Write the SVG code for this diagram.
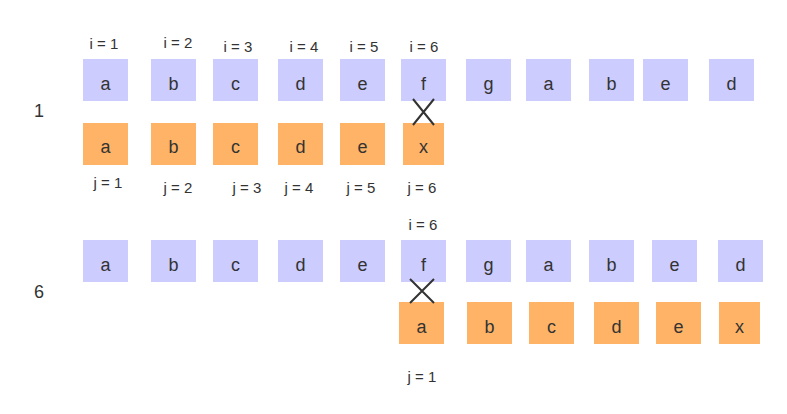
<svg xmlns="http://www.w3.org/2000/svg" width="787" height="414" viewBox="0 0 787 414">
<style>
  text { font-family: "Liberation Sans", Arial, sans-serif; fill: #333333; text-anchor: middle; }
  .lbl { font-size: 15px; }
  .ch { font-size: 18px; }
  .step { font-size: 18px; }
  .blue { fill: #ccccff; }
  .orange { fill: #ffb366; }
  .cross { stroke: #333333; stroke-width: 2; fill: none; }
</style>
<rect width="787" height="414" fill="#ffffff"/>

<g id="step1">
  <text class="step" x="39" y="117">1</text>
  <g id="labels-i-1">
    <text class="lbl" x="104" y="49">i = 1</text>
    <text class="lbl" x="178" y="48">i = 2</text>
    <text class="lbl" x="238" y="52">i = 3</text>
    <text class="lbl" x="304" y="52">i = 4</text>
    <text class="lbl" x="364" y="52">i = 5</text>
    <text class="lbl" x="424" y="52">i = 6</text>
  </g>
  <g id="text1-a"><rect class="blue" x="83" y="59" width="45" height="42"/><text class="ch" x="105.5" y="90">a</text></g>
  <g id="text1-b"><rect class="blue" x="151" y="59" width="45" height="42"/><text class="ch" x="173.5" y="90">b</text></g>
  <g id="text1-c"><rect class="blue" x="213" y="59" width="45" height="42"/><text class="ch" x="235.5" y="90">c</text></g>
  <g id="text1-d"><rect class="blue" x="278" y="59" width="45" height="42"/><text class="ch" x="300.5" y="90">d</text></g>
  <g id="text1-e"><rect class="blue" x="340" y="59" width="45" height="42"/><text class="ch" x="362.5" y="90">e</text></g>
  <g id="text1-f"><rect class="blue" x="401" y="59" width="45" height="42"/><text class="ch" x="423.5" y="90">f</text></g>
  <g id="text1-g"><rect class="blue" x="466" y="59" width="45" height="42"/><text class="ch" x="488.5" y="90">g</text></g>
  <g id="text1-a2"><rect class="blue" x="526" y="59" width="45" height="42"/><text class="ch" x="548.5" y="90">a</text></g>
  <g id="text1-b2"><rect class="blue" x="589" y="59" width="45" height="42"/><text class="ch" x="611.5" y="90">b</text></g>
  <g id="text1-e2"><rect class="blue" x="643" y="59" width="45" height="42"/><text class="ch" x="665.5" y="90">e</text></g>
  <g id="text1-d2"><rect class="blue" x="709" y="59" width="45" height="42"/><text class="ch" x="731.5" y="90">d</text></g>

  <g id="pat1-a"><rect class="orange" x="83" y="123" width="45" height="42"/><text class="ch" x="105.5" y="153">a</text></g>
  <g id="pat1-b"><rect class="orange" x="151" y="123" width="45" height="42"/><text class="ch" x="173.5" y="153">b</text></g>
  <g id="pat1-c"><rect class="orange" x="213" y="123" width="45" height="42"/><text class="ch" x="235.5" y="153">c</text></g>
  <g id="pat1-d"><rect class="orange" x="278" y="123" width="45" height="42"/><text class="ch" x="300.5" y="153">d</text></g>
  <g id="pat1-e"><rect class="orange" x="340" y="123" width="45" height="42"/><text class="ch" x="362.5" y="153">e</text></g>
  <g id="pat1-x"><rect class="orange" x="403" y="123" width="41" height="42"/><text class="ch" x="423.5" y="153">x</text></g>

  <g id="labels-j-1">
    <text class="lbl" x="108" y="188">j = 1</text>
    <text class="lbl" x="178" y="193">j = 2</text>
    <text class="lbl" x="247" y="193">j = 3</text>
    <text class="lbl" x="299" y="193">j = 4</text>
    <text class="lbl" x="361" y="193">j = 5</text>
    <text class="lbl" x="422" y="193">j = 6</text>
  </g>
</g>

<g id="step6">
  <text class="step" x="39" y="298">6</text>
  <text class="lbl" x="423" y="230">i = 6</text>
  <g id="text6-a"><rect class="blue" x="83" y="240" width="45" height="42"/><text class="ch" x="105.5" y="271">a</text></g>
  <g id="text6-b"><rect class="blue" x="151" y="240" width="45" height="42"/><text class="ch" x="173.5" y="271">b</text></g>
  <g id="text6-c"><rect class="blue" x="213" y="240" width="45" height="42"/><text class="ch" x="235.5" y="271">c</text></g>
  <g id="text6-d"><rect class="blue" x="278" y="240" width="45" height="42"/><text class="ch" x="300.5" y="271">d</text></g>
  <g id="text6-e"><rect class="blue" x="340" y="240" width="45" height="42"/><text class="ch" x="362.5" y="271">e</text></g>
  <g id="text6-f"><rect class="blue" x="401" y="240" width="45" height="42"/><text class="ch" x="423.5" y="271">f</text></g>
  <g id="text6-g"><rect class="blue" x="466" y="240" width="45" height="42"/><text class="ch" x="488.5" y="271">g</text></g>
  <g id="text6-a2"><rect class="blue" x="526" y="240" width="45" height="42"/><text class="ch" x="548.5" y="271">a</text></g>
  <g id="text6-b2"><rect class="blue" x="589" y="240" width="45" height="42"/><text class="ch" x="611.5" y="271">b</text></g>
  <g id="text6-e2"><rect class="blue" x="652" y="240" width="45" height="42"/><text class="ch" x="674.5" y="271">e</text></g>
  <g id="text6-d2"><rect class="blue" x="718" y="240" width="45" height="42"/><text class="ch" x="740.5" y="271">d</text></g>

  <g id="pat6-a"><rect class="orange" x="399" y="302" width="45" height="42"/><text class="ch" x="421.5" y="333">a</text></g>
  <g id="pat6-b"><rect class="orange" x="467" y="302" width="45" height="42"/><text class="ch" x="489.5" y="333">b</text></g>
  <g id="pat6-c"><rect class="orange" x="529" y="302" width="45" height="42"/><text class="ch" x="551.5" y="333">c</text></g>
  <g id="pat6-d"><rect class="orange" x="594" y="302" width="45" height="42"/><text class="ch" x="616.5" y="333">d</text></g>
  <g id="pat6-e"><rect class="orange" x="656" y="302" width="45" height="42"/><text class="ch" x="678.5" y="333">e</text></g>
  <g id="pat6-x"><rect class="orange" x="719" y="302" width="41" height="42"/><text class="ch" x="739.5" y="333">x</text></g>

  <text class="lbl" x="422" y="382">j = 1</text>
</g>

<g id="connectors">
  <path class="cross" d="M413,99 L434,125 M413,125 L434,99"/>
  <path class="cross" d="M410,279 L434,303 M410,303 L434,279"/>
</g>
</svg>
